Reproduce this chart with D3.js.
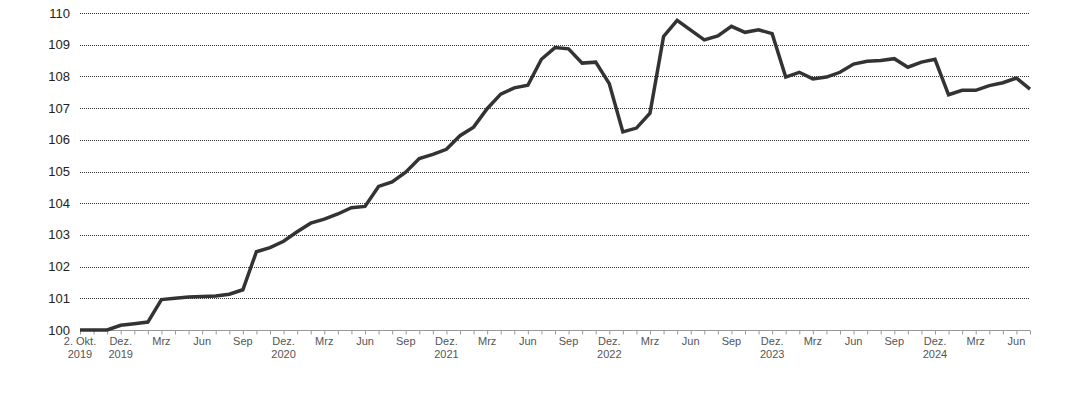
<!DOCTYPE html>
<html>
<head>
<meta charset="utf-8">
<script src="https://cdn.jsdelivr.net/npm/d3@7"></script>
<style>
  html, body { margin: 0; padding: 0; background: #fff; }
  svg { display: block; font-family: "Liberation Sans", Arial, sans-serif; }
</style>
</head>
<body>
<svg id="chart" width="1076" height="400"></svg>
<script>
const categories = [
  "2019-10-02","2019-10","2019-11","2019-12",
  "2020-01","2020-02","2020-03","2020-04","2020-05","2020-06","2020-07","2020-08","2020-09","2020-10","2020-11","2020-12",
  "2021-01","2021-02","2021-03","2021-04","2021-05","2021-06","2021-07","2021-08","2021-09","2021-10","2021-11","2021-12",
  "2022-01","2022-02","2022-03","2022-04","2022-05","2022-06","2022-07","2022-08","2022-09","2022-10","2022-11","2022-12",
  "2023-01","2023-02","2023-03","2023-04","2023-05","2023-06","2023-07","2023-08","2023-09","2023-10","2023-11","2023-12",
  "2024-01","2024-02","2024-03","2024-04","2024-05","2024-06","2024-07","2024-08","2024-09","2024-10","2024-11","2024-12",
  "2025-01","2025-02","2025-03","2025-04","2025-05","2025-06","2025-07"
];

const values = [
  100.0, 100.0, 100.0, 100.15,
  100.2, 100.25, 100.96, 101.0, 101.04, 101.06, 101.07, 101.13, 101.27, 102.47, 102.6, 102.8,
  103.1, 103.37, 103.5, 103.66, 103.86, 103.9, 104.53, 104.67, 104.98, 105.41, 105.54, 105.7,
  106.13, 106.4, 106.98, 107.44, 107.64, 107.72, 108.54, 108.91, 108.87, 108.42, 108.45, 107.77,
  106.25, 106.37, 106.84, 109.26, 109.77, 109.46, 109.15, 109.28, 109.58, 109.39, 109.47, 109.35,
  107.98, 108.13, 107.92, 107.98, 108.13, 108.39, 108.48, 108.5, 108.56, 108.29, 108.45, 108.54,
  107.42, 107.56, 107.56, 107.71, 107.8, 107.95, 107.6
];

const yTicks = [100, 101, 102, 103, 104, 105, 106, 107, 108, 109, 110];

const tickCategories = [
  "2019-10-02","2019-12","2020-03","2020-06","2020-09","2020-12",
  "2021-03","2021-06","2021-09","2021-12","2022-03","2022-06","2022-09","2022-12",
  "2023-03","2023-06","2023-09","2023-12","2024-03","2024-06","2024-09","2024-12",
  "2025-03","2025-06"
];
const tickLabels = [
  ["2. Okt.","2019"],["Dez.","2019"],["Mrz"],["Jun"],["Sep"],["Dez.","2020"],
  ["Mrz"],["Jun"],["Sep"],["Dez.","2021"],["Mrz"],["Jun"],["Sep"],["Dez.","2022"],
  ["Mrz"],["Jun"],["Sep"],["Dez.","2023"],["Mrz"],["Jun"],["Sep"],["Dez.","2024"],
  ["Mrz"],["Jun"]
];

const svg = d3.select("#chart");
const x = d3.scalePoint().domain(categories).range([80, 1030]);
const y = d3.scaleLinear().domain([100, 110]).range([330, 13]);

// dotted gridlines
svg.append("g")
  .selectAll("line")
  .data(yTicks.filter(d => d !== 100))
  .join("line")
  .attr("x1", 80).attr("x2", 1030)
  .attr("y1", d => Math.round(y(d)) + 0.5).attr("y2", d => Math.round(y(d)) + 0.5)
  .attr("stroke", "#333")
  .attr("stroke-width", 1)
  .attr("stroke-dasharray", "1,1");

// y labels
svg.append("g")
  .selectAll("text")
  .data(yTicks)
  .join("text")
  .attr("x", 70)
  .attr("y", d => y(d))
  .attr("dy", "0.35em")
  .attr("text-anchor", "end")
  .attr("font-size", 13)
  .attr("fill", "#222")
  .text(d => d);

// x axis with monthly ticks
const xAxis = d3.axisBottom(x).tickSize(4).tickFormat("");
const gx = svg.append("g")
  .attr("transform", `translate(0,${Math.round(y(100)) + 0.5})`)
  .call(xAxis);
gx.select(".domain").attr("stroke", "#999").attr("d", "M80,0H1030");
gx.selectAll(".tick line").attr("stroke", "#999");

// x labels
const lbl = svg.append("g")
  .selectAll("text")
  .data(tickCategories.map((c, i) => ({c, lines: tickLabels[i]})))
  .join("text")
  .attr("x", d => x(d.c))
  .attr("y", 345)
  .attr("text-anchor", "middle")
  .attr("font-size", 11)
  .attr("fill", "#555");
lbl.selectAll("tspan")
  .data(d => d.lines.map(t => ({t, x: x(d.c)})))
  .join("tspan")
  .attr("x", d => d.x)
  .attr("dy", (d, i) => i === 0 ? 0 : 13)
  .text(d => d.t);

// line
const line = d3.line()
  .x((d, i) => x(categories[i]))
  .y(d => y(d));
svg.append("path")
  .datum(values)
  .attr("d", line)
  .attr("fill", "none")
  .attr("stroke", "#333")
  .attr("stroke-width", 3.5)
  .attr("stroke-linejoin", "miter")
  .attr("stroke-linecap", "butt");
</script>
</body>
</html>
